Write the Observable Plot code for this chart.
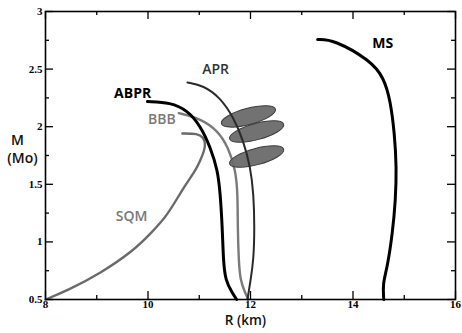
<!DOCTYPE html>
<html>
<head>
<meta charset="utf-8">
<script src="https://cdn.jsdelivr.net/npm/d3@7"></script>
<script src="https://cdn.jsdelivr.net/npm/@observablehq/plot@0.6"></script>
<style>
  html, body { margin: 0; padding: 0; background: #fff; }
  #chart svg { display: block; }
</style>
</head>
<body>
<div id="chart"></div>
<script>
// ---- data ----
const msR   = [13.31, 13.62, 14.34, 14.60, 14.73, 14.81, 14.85, 14.83, 14.77, 14.67, 14.58, 14.60];
const msM   = [2.757, 2.757, 2.575, 2.427, 2.227, 1.941, 1.646, 1.359, 1.073, 0.778, 0.639, 0.5];

const abprR = [9.99, 10.44, 10.77, 11.02, 11.22, 11.36, 11.41, 11.45, 11.47, 11.51, 11.65, 11.73];
const abprM = [2.219, 2.210, 2.141, 2.010, 1.819, 1.620, 1.420, 1.125, 0.839, 0.665, 0.552, 0.5];

const bbbR  = [10.60, 11.02, 11.36, 11.57, 11.71, 11.75, 11.75, 11.77, 11.80, 11.90, 11.96];
const bbbM  = [2.118, 2.071, 1.967, 1.819, 1.620, 1.420, 1.125, 0.839, 0.665, 0.552, 0.5];

const aprR  = [10.77, 11.08, 11.41, 11.67, 11.86, 12.00, 12.06, 12.08, 12.06, 12.00, 11.96, 11.94];
const aprM  = [2.384, 2.358, 2.253, 2.080, 1.880, 1.646, 1.420, 1.125, 0.839, 0.665, 0.552, 0.5];

const sqmR  = [8.00, 8.43, 9.07, 9.72, 10.05, 10.38, 10.69, 10.93, 11.02, 11.10, 11.12, 11.08, 10.97, 10.67];
const sqmM  = [0.5, 0.578, 0.726, 0.925, 1.073, 1.229, 1.472, 1.620, 1.707, 1.793, 1.854, 1.906, 1.941, 1.941];

const ellipseR = [11.96, 12.12, 12.12];
const ellipseM = [2.089, 1.958, 1.741];

const labelNames = ["MS", "ABPR", "APR", "BBB", "SQM"];
const labelR     = [14.58, 9.70, 11.32, 10.27, 9.68];
const labelM     = [2.72, 2.29, 2.50, 2.06, 1.22];

const xMajor = [8, 10, 12, 14, 16];
const xMinor = [9, 11, 13, 15];
const yMajor = [0.5, 1, 1.5, 2, 2.5, 3];
const yMinor = [0.75, 1.25, 1.75, 2.25, 2.75];

// ---- build tables ----
const zip = (name, R, M) => R.map((r, i) => ({name, R: r, M: M[i]}));
const curvesUnder = [
  {name: "SQM",  pts: zip("SQM", sqmR, sqmM),   stroke: "#6a6a6a", w: 2.4},
  {name: "BBB",  pts: zip("BBB", bbbR, bbbM),   stroke: "#7a7a7a", w: 2.4}
];
const curvesOver = [
  {name: "APR",  pts: zip("APR", aprR, aprM),   stroke: "#2a2a2a", w: 2},
  {name: "ABPR", pts: zip("ABPR", abprR, abprM), stroke: "#000",    w: 3},
  {name: "MS",   pts: zip("MS", msR, msM),      stroke: "#000",    w: 3}
];
const ellipses = ellipseR.map((r, i) => ({R: r, M: ellipseM[i]}));
const labels = labelNames.map((n, i) => ({name: n, R: labelR[i], M: labelM[i]}));
const labelStyle = {
  MS:   {fill: "#000", weight: 700},
  ABPR: {fill: "#000", weight: 700},
  APR:  {fill: "#333", weight: 600},
  BBB:  {fill: "#7a7a7a", weight: 600},
  SQM:  {fill: "#777", weight: 600}
};

// custom elliptical symbol
const ellipseSymbol = {
  draw(ctx, size) {
    const a = Math.sqrt(size / Math.PI), b = a * 0.29, k = 0.5523;
    ctx.moveTo(a, 0);
    ctx.bezierCurveTo(a, k * b, k * a, b, 0, b);
    ctx.bezierCurveTo(-k * a, b, -a, k * b, -a, 0);
    ctx.bezierCurveTo(-a, -k * b, -k * a, -b, 0, -b);
    ctx.bezierCurveTo(k * a, -b, a, -k * b, a, 0);
    ctx.closePath();
  }
};

const W = 462, H = 333;
const mL = 45, mR = 7, mT = 11, mB = 34;
const innerW = W - mL - mR, innerH = H - mT - mB;
const serif = "Liberation Serif, DejaVu Serif, serif";
const sans = "Open Sans, DejaVu Sans, sans-serif";

const marks = [];
for (const c of curvesUnder) {
  marks.push(Plot.line(c.pts, {x: "R", y: "M", stroke: c.stroke, strokeWidth: c.w, curve: "basis"}));
}
// ellipses
marks.push(Plot.dot(ellipses, {x: "R", y: "M", r: 28, symbol: ellipseSymbol, rotate: -15,
  fill: "#6a6a6a", fillOpacity: 0.95, stroke: "#3c3c3c", strokeWidth: 1}));
for (const c of curvesOver) {
  marks.push(Plot.line(c.pts, {x: "R", y: "M", stroke: c.stroke, strokeWidth: c.w, curve: "basis"}));
}
// curve labels
for (const l of labels) {
  const s = labelStyle[l.name];
  marks.push(Plot.text([l], {x: "R", y: "M", text: "name", fill: s.fill, fontWeight: s.weight,
    fontSize: 14, fontFamily: sans, textAnchor: "middle"}));
}
// frame
marks.push(Plot.frame({stroke: "#000", strokeWidth: 1.6}));
// inward ticks
const tickStyle = {stroke: "#000", strokeWidth: 1.3};
marks.push(Plot.tickX(xMajor, {x: d => d, insetTop: innerH - 8, ...tickStyle}));
marks.push(Plot.tickX(xMajor, {x: d => d, insetBottom: innerH - 8, ...tickStyle}));
marks.push(Plot.tickX(xMinor, {x: d => d, insetTop: innerH - 4, ...tickStyle}));
marks.push(Plot.tickX(xMinor, {x: d => d, insetBottom: innerH - 4, ...tickStyle}));
marks.push(Plot.tickY(yMajor, {y: d => d, insetRight: innerW - 8, ...tickStyle}));
marks.push(Plot.tickY(yMajor, {y: d => d, insetLeft: innerW - 8, ...tickStyle}));
marks.push(Plot.tickY(yMinor, {y: d => d, insetRight: innerW - 4, ...tickStyle}));
marks.push(Plot.tickY(yMinor, {y: d => d, insetLeft: innerW - 4, ...tickStyle}));
// tick labels
marks.push(Plot.axisX(xMajor, {anchor: "bottom", tickSize: 0, tickPadding: 1, label: null,
  fontFamily: serif, fontWeight: "bold", fontSize: 11, tickFormat: d => String(d)}));
marks.push(Plot.axisY(yMajor, {anchor: "left", tickSize: 0, tickPadding: 3, label: null,
  fontFamily: serif, fontWeight: "bold", fontSize: 11, tickFormat: d => String(d)}));
// axis titles
marks.push(Plot.text(["M"], {frameAnchor: "left", dx: -28, dy: -15, text: d => d,
  fontFamily: sans, fontWeight: 600, fontSize: 14, fill: "#111", textAnchor: "middle"}));
marks.push(Plot.text(["(Mo)"], {frameAnchor: "left", dx: -23, dy: 3, text: d => d,
  fontFamily: sans, fontWeight: 600, fontSize: 14, fill: "#111", textAnchor: "middle"}));
marks.push(Plot.text(["R (km)"], {frameAnchor: "bottom", dx: -5, dy: 25, text: d => d,
  fontFamily: sans, fontWeight: 600, fontSize: 13.5, fill: "#111", textAnchor: "middle"}));

const chart = Plot.plot({
  width: W, height: H,
  marginLeft: mL, marginRight: mR, marginTop: mT, marginBottom: mB,
  x: {domain: [8, 16], axis: null},
  y: {domain: [0.5, 3], axis: null},
  style: {background: "#fff", overflow: "visible"},
  marks
});
document.getElementById("chart").appendChild(chart);
</script>
</body>
</html>
